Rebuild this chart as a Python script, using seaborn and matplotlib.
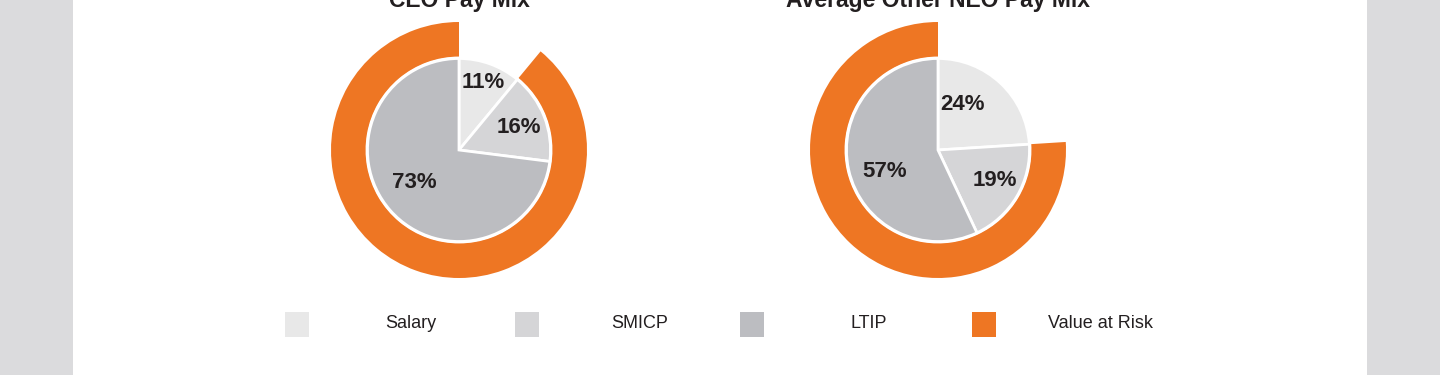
import numpy as np
import seaborn as sns
import matplotlib.pyplot as plt
from matplotlib.patches import Rectangle

sns.set_theme(style="white")
plt.rcParams['font.family'] = ['Liberation Sans', 'DejaVu Sans']

# data
titles = ["CEO Pay Mix", "Average Other NEO Pay Mix"]
components = ["Salary", "SMICP", "LTIP"]
ceo_mix = [11, 16, 73]
neo_mix = [24, 19, 57]
legend_labels = ["Salary", "SMICP", "LTIP", "Value at Risk"]

colors = ["#e8e8e8", "#d5d5d7", "#bcbdc1"]
orange = "#ee7623"
text_dark = "#231f20"

# layout (pixels, origin at top left)
W, H = 1440, 375
R = 128
centers = [(459, 150), (938, 150)]
# label placement: (angle deg, fraction of inner radius)
label_pos = [
    [(70, 0.79), (21, 0.70), (216, 0.61)],
    [(62, 0.56), (-28, 0.70), (202, 0.63)],
]

fig = plt.figure(figsize=(W / 100, H / 100), dpi=100)
fig.patch.set_facecolor("#dbdbdd")
# white page panel, kept behind the axes
fig.patches.append(Rectangle((73 / W, 0), (1367 - 73) / W, 1, transform=fig.transFigure,
                             facecolor="white", edgecolor="none", zorder=-5))

for title, mix, (cx, cy), lpos in zip(titles, [ceo_mix, neo_mix], centers, label_pos):
    ax = fig.add_axes([(cx - R) / W, (H - cy - R) / H, 2 * R / W, 2 * R / H])
    ax.set_facecolor("none")
    at_risk = sum(mix[1:])

    # outer ring: value at risk
    ax.pie([at_risk, 100 - at_risk], radius=1.0, startangle=90, counterclock=True,
           colors=[orange, "none"], wedgeprops=dict(width=0.27, edgecolor="none"))

    # inner pie: pay components
    inner_r = 0.715
    ax.pie(mix, radius=inner_r, startangle=90, counterclock=False, colors=colors,
           wedgeprops=dict(edgecolor="white", linewidth=2))

    for val, (ang, frac) in zip(mix, lpos):
        t = np.deg2rad(ang)
        ax.text(frac * inner_r * np.cos(t), frac * inner_r * np.sin(t), f"{val}%",
                ha="center", va="center", fontsize=16, fontweight="bold", color=text_dark)

    ax.set_xlim(-1, 1)
    ax.set_ylim(-1, 1)
    ax.set_aspect("equal")
    ax.axis("off")

    fig.text(cx / W, (H - 7) / H, title, ha="center", va="baseline",
             fontsize=16.5, fontweight="bold", color=text_dark)

# legend row
sq_x = [297, 527, 752, 984]
lab_x = [411, 640, 869, 1101]
leg_colors = colors + [orange]
for sx, lx, lab, c in zip(sq_x, lab_x, legend_labels, leg_colors):
    fig.patches.append(Rectangle(((sx - 12) / W, (H - 337) / H), 24 / W, 25 / H,
                                 transform=fig.transFigure, facecolor=c, edgecolor="none"))
    fig.text(lx / W, (H - 324) / H, lab, ha="center", va="center", fontsize=13, color=text_dark)

fig.savefig("out.png", dpi=100, facecolor=fig.get_facecolor())
